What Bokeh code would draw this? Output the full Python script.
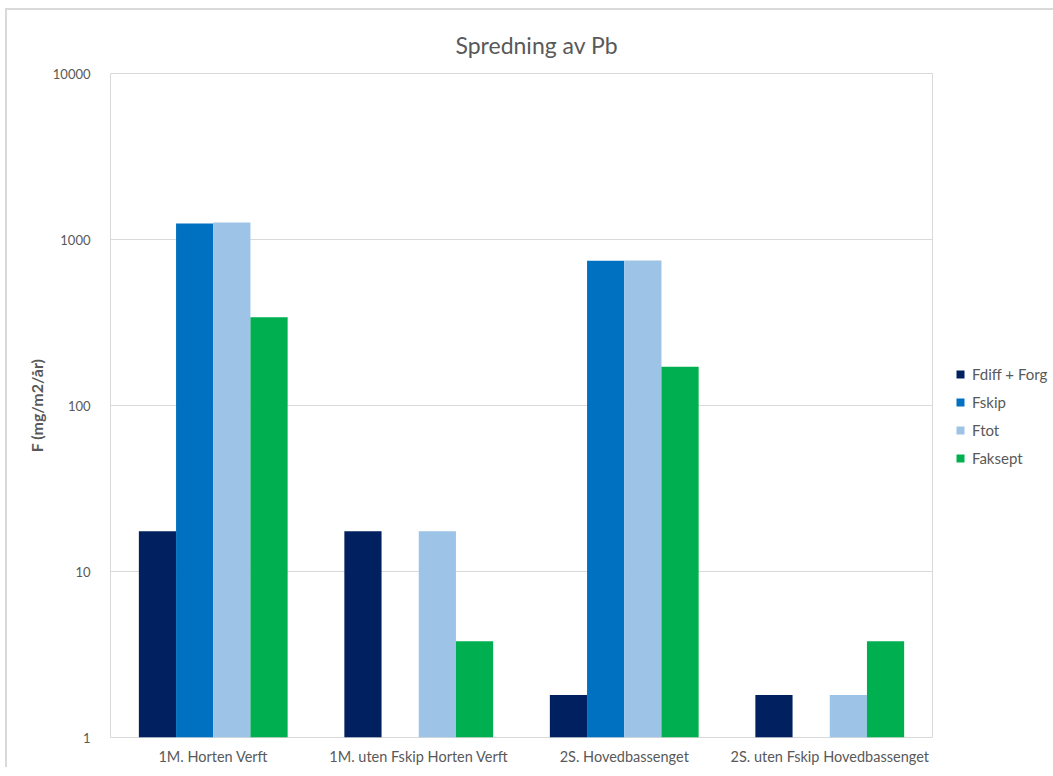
from bokeh.plotting import figure
from bokeh.models import (FactorRange, Range1d, FixedTicker, PrintfTickFormatter,
                          Legend, LegendItem, ColumnDataSource)
from bokeh.transform import dodge
from bokeh.embed import file_html
from bokeh.resources import INLINE

# Chart data
categories = ["1M. Horten Verft", "1M. uten Fskip Horten Verft",
              "2S. Hovedbassenget", "2S. uten Fskip Hovedbassenget"]
series_names = ["Fdiff + Forg", "Fskip", "Ftot", "Faksept"]
fdiff_forg = [17.5, 17.5, 1.8, 1.8]
fskip = [1250, None, 745, None]
ftot = [1267, 17.5, 747, 1.8]
faksept = [340, 3.8, 171, 3.8]
series_values = [fdiff_forg, fskip, ftot, faksept]
series_colors = ["#002060", "#0070C0", "#9DC3E6", "#00B050"]
y_ticks = [1, 10, 100, 1000, 10000]

FONT = "Lato"
TEXT = "#595959"
GRID = "#d9d9d9"

p = figure(x_range=FactorRange(*categories), y_range=Range1d(1, 10000),
           y_axis_type="log", frame_width=822, frame_height=664,
           min_border_left=103, min_border_top=63, min_border_bottom=20,
           min_border_right=0,
           output_backend="svg", toolbar_location=None,
           title="Spredning av Pb")
p.margin = (8, 0, 0, 5)
p.styles = {"border-top": "2px solid #d9d9d9", "border-left": "2px solid #d9d9d9"}

p.title.align = "left"
p.title.text_font = FONT
p.title.text_font_size = "23px"
p.title.text_font_style = "normal"
p.title.text_color = TEXT
p.title.offset = 345
p.title.standoff = 30

p.outline_line_color = GRID
p.outline_line_width = 1
p.background_fill_color = "white"
p.border_fill_color = "white"

p.xgrid.grid_line_color = None
p.ygrid.grid_line_color = GRID
p.ygrid.ticker = FixedTicker(ticks=y_ticks)

p.yaxis.ticker = FixedTicker(ticks=y_ticks)
p.yaxis.formatter = PrintfTickFormatter(format="%d")
p.yaxis.axis_label = "F (mg/m2/år)"
p.yaxis.axis_label_text_font = FONT
p.yaxis.axis_label_text_font_size = "16px"
p.yaxis.axis_label_text_font_style = "bold"
p.yaxis.axis_label_text_color = TEXT
p.yaxis.axis_label_standoff = 4

for ax in (p.xaxis[0], p.yaxis[0]):
    ax.axis_line_color = None
    ax.major_tick_line_color = None
    ax.minor_tick_line_color = None
    ax.major_label_text_font = FONT
    ax.major_label_text_color = TEXT
p.yaxis.major_label_text_font_size = "13px"
p.xaxis.major_label_text_font_size = "14.5px"
p.yaxis.major_label_standoff = 14
p.xaxis.major_label_standoff = 4

bar_w = 0.181
offsets = [-1.5 * bar_w, -0.5 * bar_w, 0.5 * bar_w, 1.5 * bar_w]
items = []
for name, vals, color, off in zip(series_names, series_values, series_colors, offsets):
    cats = [c for c, v in zip(categories, vals) if v is not None]
    tops = [v for v in vals if v is not None]
    src = ColumnDataSource(dict(cat=cats, top=tops))
    r = p.vbar(x=dodge("cat", off, range=p.x_range), top="top", bottom=1,
               width=bar_w, source=src, fill_color=color, line_color=None)
    items.append(LegendItem(label=name, renderers=[r]))

# legend in its own panel to the right of the frame
legend = Legend(items=items, location=(23, 270), border_line_color=None,
                background_fill_alpha=0, label_text_font=FONT,
                label_text_font_size="15px", label_text_color=TEXT,
                glyph_width=10, glyph_height=10, label_height=16,
                spacing=10, margin=0, padding=6, label_standoff=7)
p.add_layout(legend, "right")

open("out.html", "w").write(file_html(p, INLINE))
